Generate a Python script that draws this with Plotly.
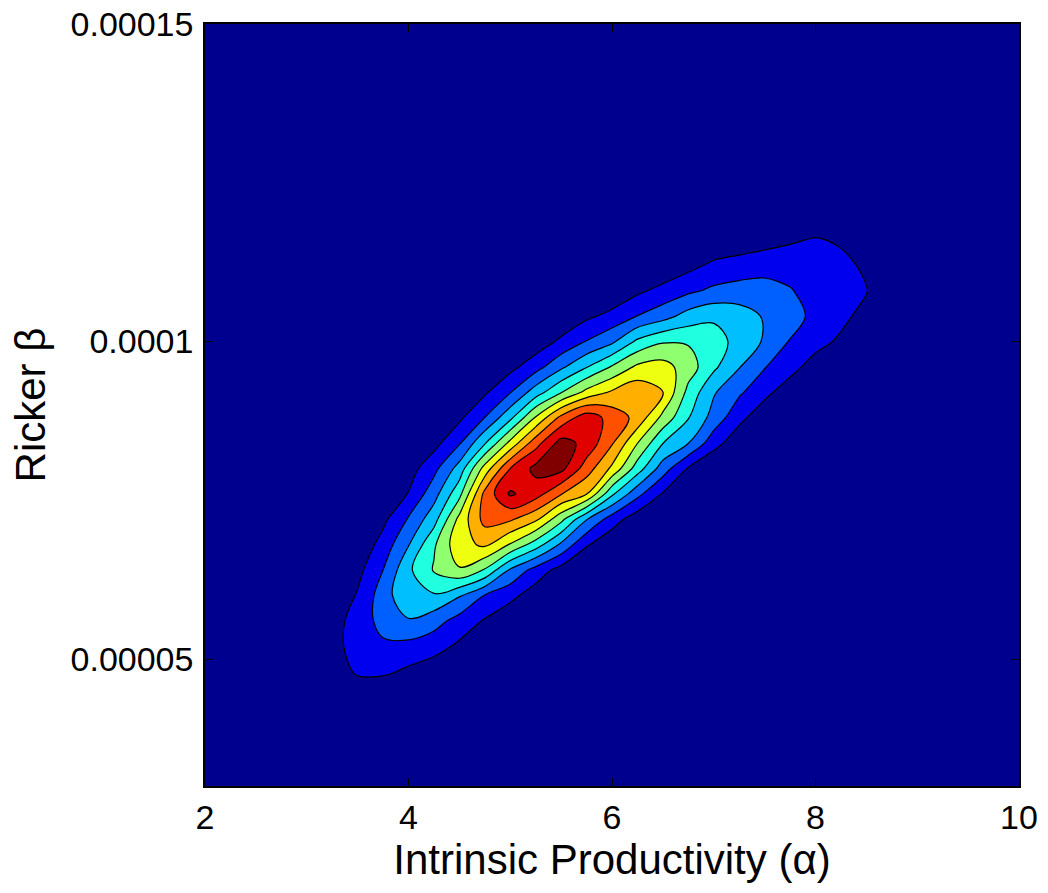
import plotly.graph_objects as go

# Intrinsic productivity (alpha) grid values
alpha = [2.0, 3.0, 3.25, 3.5, 3.75, 4.0, 4.25, 4.5, 4.75, 5.0, 5.25, 5.5, 5.75,
         6.0, 6.25, 6.5, 6.75, 7.0, 7.25, 7.5, 7.75, 8.0, 8.25, 8.5, 8.75, 9.0, 10.0]

# Ricker beta grid values
beta = [3.0e-5, 4.4e-5, 4.8e-5, 5.2e-5, 5.6e-5, 6.0e-5, 6.4e-5, 6.8e-5, 7.2e-5,
        7.6e-5, 8.0e-5, 8.4e-5, 8.8e-5, 9.2e-5, 9.6e-5, 10.0e-5, 10.4e-5,
        10.8e-5, 11.2e-5, 11.6e-5, 12.0e-5, 15.0e-5]

# relative posterior density (contour level units), one row per beta value
dens_b300 = [0] * 27
dens_b440 = [0] * 27
dens_b480 = [0, 0, 0.2, 1.2, 1.2, 0.8, 0.4, 0, 0, 0, 0, 0, 0, 0, 0, 0, 0, 0, 0, 0, 0, 0, 0, 0, 0, 0, 0]
dens_b520 = [0, 0, 0.5, 1.6, 1.85, 1.7, 1.4, 0.8, 0.3, 0, 0, 0, 0, 0, 0, 0, 0, 0, 0, 0, 0, 0, 0, 0, 0, 0, 0]
dens_b560 = [0, 0, 0.5, 1.5, 2.3, 2.9, 2.4, 1.6, 0.9, 0.2, 0, 0, 0, 0, 0, 0, 0, 0, 0, 0, 0, 0, 0, 0, 0, 0, 0]
dens_b600 = [0, 0, 0.15, 1.1, 2.5, 3.85, 3.9, 3.1, 1.95, 1.3, 0.45, 0, 0, 0, 0, 0, 0, 0, 0, 0, 0, 0, 0, 0, 0, 0, 0]
dens_b640 = [0, 0, 0, 0.7, 2.0, 3.8, 5.1, 5.9, 4.9, 2.85, 1.6, 0.6, 0, 0, 0, 0, 0, 0, 0, 0, 0, 0, 0, 0, 0, 0, 0]
dens_b680 = [0, 0, 0, 0.2, 1.4, 2.95, 4.85, 6.7, 7.15, 5.9, 4.5, 2.8, 1.1, 0.2, 0, 0, 0, 0, 0, 0, 0, 0, 0, 0, 0, 0, 0]
dens_b720 = [0, 0, 0, 0, 0.75, 2.1, 3.6, 6.3, 8.35, 8.15, 7.2, 5.3, 3.05, 1.5, 0.4, 0, 0, 0, 0, 0, 0, 0, 0, 0, 0, 0, 0]
dens_b760 = [0, 0, 0, 0, 0.1, 1.05, 2.6, 4.7, 8.3, 10.15, 9.45, 8.05, 7.05, 4.2, 2.3, 0.9, 0, 0, 0, 0, 0, 0, 0, 0, 0, 0, 0]
dens_b800 = [0, 0, 0, 0, 0, 0.55, 1.7, 3.4, 6.4, 9.0, 10.3, 10.3, 8.5, 6.8, 4.5, 2.5, 0.9, 0, 0, 0, 0, 0, 0, 0, 0, 0, 0]
dens_b840 = [0, 0, 0, 0, 0, 0, 0.65, 1.9, 3.9, 6.3, 8.6, 10.4, 9.7, 8.1, 6.02, 4.02, 3.02, 1.4, 0.3, 0, 0, 0, 0, 0, 0, 0, 0]
dens_b880 = [0, 0, 0, 0, 0, 0, 0, 0.8, 2.02, 3.75, 6.1, 8.3, 9.6, 8.6, 7.7, 5.7, 4.05, 2.6, 1.3, 0.3, 0, 0, 0, 0, 0, 0, 0]
dens_b920 = [0, 0, 0, 0, 0, 0, 0, 0, 0.85, 1.95, 3.5, 4.95, 6.3, 7.15, 7.7, 7.02, 4.7, 3.1, 2.15, 1.3, 0.4, 0, 0, 0, 0, 0, 0]
dens_b960 = [0, 0, 0, 0, 0, 0, 0, 0, 0, 0.7, 1.6, 2.8, 3.95, 5.1, 6.2, 6.4, 5.5, 4.2, 3.05, 2.05, 1.4, 0.5, 0, 0, 0, 0, 0]
dens_b1000 = [0, 0, 0, 0, 0, 0, 0, 0, 0, 0, 0.4, 1.2, 2.05, 2.8, 4.2, 4.9, 4.9, 4.5, 3.6, 2.9, 1.95, 1.4, 0.8, 0.1, 0, 0, 0]
dens_b1040 = [0, 0, 0, 0, 0, 0, 0, 0, 0, 0, 0, 0.2, 0.8, 1.3, 2.02, 2.6, 3.4, 3.8, 3.5, 2.9, 2.3, 1.8, 1.3, 0.6, 0, 0, 0]
dens_b1080 = [0, 0, 0, 0, 0, 0, 0, 0, 0, 0, 0, 0, 0, 0.2, 0.8, 1.3, 1.8, 2.2, 2.4, 2.4, 2.05, 1.7, 1.5, 1.05, 0.3, 0, 0]
dens_b1120 = [0, 0, 0, 0, 0, 0, 0, 0, 0, 0, 0, 0, 0, 0, 0, 0.2, 0.7, 1.2, 1.4, 1.6, 1.7, 1.6, 1.3, 0.8, 0, 0, 0]
dens_b1160 = [0, 0, 0, 0, 0, 0, 0, 0, 0, 0, 0, 0, 0, 0, 0, 0, 0, 0.2, 0.4, 0.6, 0.85, 1.1, 0.85, 0.3, 0, 0, 0]
dens_b1200 = [0] * 27
dens_b1500 = [0] * 27

density = [dens_b300, dens_b440, dens_b480, dens_b520, dens_b560, dens_b600,
           dens_b640, dens_b680, dens_b720, dens_b760, dens_b800, dens_b840,
           dens_b880, dens_b920, dens_b960, dens_b1000, dens_b1040, dens_b1080,
           dens_b1120, dens_b1160, dens_b1200, dens_b1500]

x_ticks = [2, 4, 6, 8, 10]
y_ticks = [5e-5, 1e-4, 1.5e-4]
y_ticktext = ["0.00005", "0.0001", "0.00015"]

jet = ["rgb(0,0,143)", "rgb(0,0,239)", "rgb(0,96,255)", "rgb(0,191,255)",
       "rgb(32,255,223)", "rgb(143,255,112)", "rgb(239,255,16)",
       "rgb(255,175,0)", "rgb(255,80,0)", "rgb(223,0,0)", "rgb(128,0,0)"]
colorscale = [[i / 10, c] for i, c in enumerate(jet)]

fig = go.Figure(go.Contour(
    x=alpha, y=beta, z=density,
    contours=dict(start=1, end=10, size=1, coloring="fill"),
    colorscale=colorscale,
    line=dict(color="black", width=1.2),
    showscale=False,
    hoverinfo="skip",
))

font_family = "Liberation Sans, Arial, sans-serif"
axis_common = dict(
    showgrid=False, zeroline=False, showline=True, linecolor="black",
    linewidth=1.5, mirror="ticks", ticks="inside", ticklen=8,
    tickcolor="black", tickwidth=1, ticklabeloverflow="allow",
    automargin=False,
    tickfont=dict(family=font_family, size=34, color="black"),
)

fig.update_layout(
    width=1048, height=893,
    margin=dict(l=205, r=29, t=24, b=107),
    paper_bgcolor="white", plot_bgcolor=jet[0],
    xaxis=dict(range=[2, 10], tickvals=x_ticks, ticktext=[str(v) for v in x_ticks],
               title=dict(text="Intrinsic Productivity (α)", standoff=6,
                          font=dict(family=font_family, size=42, color="black")),
               **axis_common),
    yaxis=dict(range=[3e-5, 1.5e-4], tickvals=y_ticks, ticktext=y_ticktext,
               ticklabelstandoff=3,
               title=dict(text="Ricker β", standoff=12,
                          font=dict(family=font_family, size=42, color="black")),
               **axis_common),
    showlegend=False,
)

fig.write_html("out.html",
               config={"displayModeBar": False},
               post_script="document.body.style.margin='0';document.body.style.overflow='hidden';")
